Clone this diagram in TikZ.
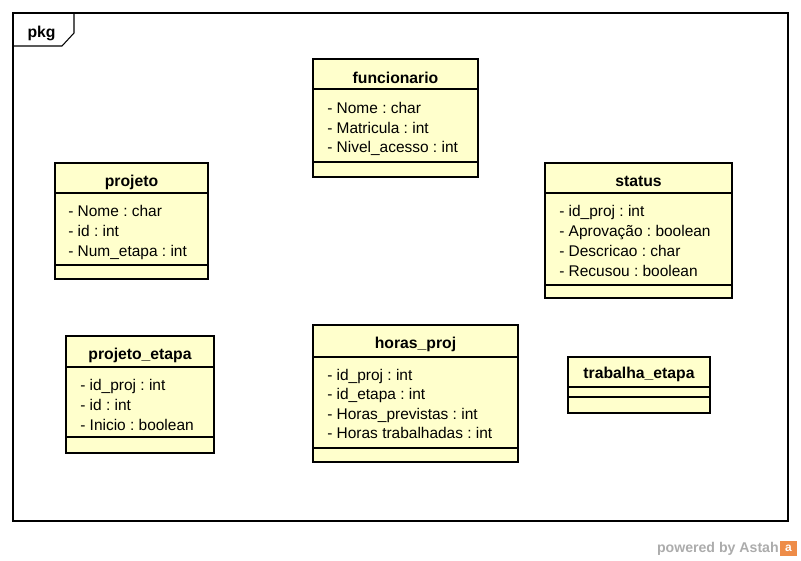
\documentclass[tikz,border=0pt]{standalone}
\usepackage{fontspec}
\setmainfont{Liberation Sans}
\definecolor{clsfill}{RGB}{255,255,204}
\definecolor{astahgray}{RGB}{172,172,172}
\definecolor{astahorange}{RGB}{238,140,72}
\newcommand{\umlclass}[6]{% x1, ytop, x2, ybot, sep1, sep2
  \fill[clsfill] (#1,#2) rectangle (#3,#4);
  \draw[sepline] (#1,#5) -- (#3,#5);
  \draw[sepline] (#1,#6) -- (#3,#6);
  \draw[clsborder] (#1,#2) rectangle (#3,#4);
}
\frenchspacing
\begin{document}
\frenchspacing
\begin{tikzpicture}[x=0.75pt,y=-0.75pt,
  clsborder/.style={draw=black, line width=2pt},
  sepline/.style={draw=black, line width=0.8pt},
  frameline/.style={draw=black, line width=0.8pt},
  clstitle/.style={font=\fontsize{11.8}{13}\selectfont\bfseries, anchor=base, inner sep=0pt},
  clsattr/.style={font=\fontsize{11.6}{13}\selectfont, anchor=base west, inner sep=0pt},
]
\useasboundingbox (0,0) rectangle (801,561);
\fill[white] (0,0) rectangle (801,561);

% package frame
\draw[frameline] (13,13) rectangle (788,521);
\draw[frameline] (13,46) -- (62,46) -- (74,33) -- (74,13);
\node[clstitle] (pkg) at (41.5,37) {pkg};

% funcionario
\umlclass{313}{59}{478}{177}{89}{162}
\node[clstitle] (funcionario) at (395.5,83) {funcionario};
\node[clsattr] (fa1) at (327,113.5) {- Nome : char};
\node[clsattr] (fa2) at (327,133.2) {- Matricula : int};
\node[clsattr] (fa3) at (327,152.9) {- Nivel\_acesso : int};

% projeto
\umlclass{55}{163}{208}{279}{193}{265}
\node[clstitle] (projeto) at (131.5,186) {projeto};
\node[clsattr] (pa1) at (68,216.5) {- Nome : char};
\node[clsattr] (pa2) at (68,236.3) {- id : int};
\node[clsattr] (pa3) at (68,256) {- Num\_etapa : int};

% status
\umlclass{545}{163}{732}{298}{193}{285}
\node[clstitle] (status) at (638.5,186) {status};
\node[clsattr] (sa1) at (559,216.5) {- id\_proj : int};
\node[clsattr] (sa2) at (559,236.5) {- Aprovação : boolean};
\node[clsattr] (sa3) at (559,256.5) {- Descricao : char};
\node[clsattr] (sa4) at (559,276.5) {- Recusou : boolean};

% projeto_etapa
\umlclass{66}{336}{214}{453}{367}{437}
\node[clstitle] (projetoetapa) at (140,359.5) {projeto\_etapa};
\node[clsattr] (ea1) at (80,390) {- id\_proj : int};
\node[clsattr] (ea2) at (80,410) {- id : int};
\node[clsattr] (ea3) at (80,430) {- Inicio : boolean};

% horas_proj
\umlclass{313}{325}{518}{462}{357}{448}
\node[clstitle] (horasproj) at (415.5,348.5) {horas\_proj};
\node[clsattr] (ha1) at (327,380) {- id\_proj : int};
\node[clsattr] (ha2) at (327,399.5) {- id\_etapa : int};
\node[clsattr] (ha3) at (327,419) {- Horas\_previstas : int};
\node[clsattr] (ha4) at (327,438.5) {- Horas trabalhadas : int};

% trabalha_etapa
\umlclass{568}{357}{710}{413}{387}{397}
\node[clstitle] (trabalhaetapa) at (639,378.5) {trabalha\_etapa};

% powered by Astah
\node[font=\fontsize{10.6}{12}\selectfont\bfseries, text=astahgray, anchor=base east, inner sep=0pt] (powered) at (779,552.5) {powered by Astah};
\fill[astahorange] (780,541) rectangle (797,556);
\node[font=\fontsize{9}{10}\selectfont\bfseries, text=white, inner sep=0pt] (logo) at (788.5,548.5) {a};
\end{tikzpicture}
\end{document}
